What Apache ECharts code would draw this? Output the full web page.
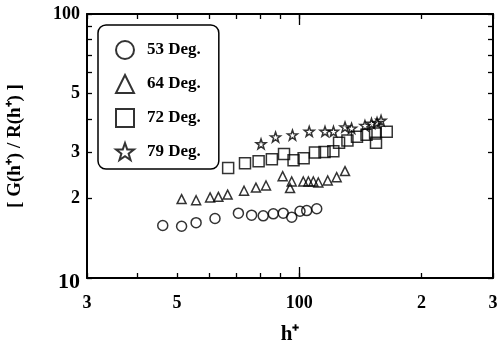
<!DOCTYPE html>
<html>
<head>
<meta charset="utf-8">
<script src="https://cdn.jsdelivr.net/npm/echarts@6/dist/echarts.min.js"></script>
<style>
  html, body { margin: 0; padding: 0; background: #fff; }
  #chart { width: 500px; height: 341px; }
</style>
</head>
<body>
<div id="chart"></div>
<script>
// 数据
var seriesNames = ['53 Deg.', '64 Deg.', '72 Deg.', '79 Deg.']
var circleX = [46.1, 51.3, 55.7, 62.0, 70.8, 76.3, 81.5, 86.3, 91.3, 95.8, 100.4, 104.3, 110.4]
var circleY = [15.8, 15.7, 16.2, 16.8, 17.6, 17.3, 17.2, 17.5, 17.6, 17.0, 17.9, 18.0, 18.3]
var triX = [51.3, 55.7, 60.3, 63.2, 66.6, 73.1, 78.2, 82.8, 91.0, 95.8, 94.9, 102.3, 105.3, 108.3, 111.4, 117.5, 123.6, 129.6]
var triY = [19.9, 19.7, 20.2, 20.3, 20.7, 21.4, 22.0, 22.4, 24.3, 23.2, 21.9, 23.2, 23.2, 23.2, 23.0, 23.4, 24.1, 25.4]
var sqX = [66.8, 73.5, 79.4, 85.6, 91.7, 96.8, 102.5, 109.3, 115.4, 121.3, 125.3, 131.4, 138.7, 146.4, 153.7, 154.5, 164.2]
var sqY = [26.1, 27.2, 27.7, 28.2, 29.5, 27.9, 28.4, 29.9, 30.0, 30.2, 32.5, 33.2, 34.3, 34.9, 35.3, 32.5, 35.8]
var starX = [80.5, 87.4, 96.2, 105.8, 115.7, 121.4, 129.6, 134.5, 145.1, 150.6, 155.4, 159.0]
var starY = [32.2, 34.2, 34.8, 35.9, 35.9, 35.9, 37.3, 36.9, 37.8, 38.5, 38.8, 39.5]

// 刻度
var xTicks = [30, 40, 50, 60, 70, 80, 90, 100, 200, 300]
var xLabelValues = [30, 50, 100, 200, 300]
var xLabelText = ['3', '5', '100', '2', '3']
var yTicks = [10, 20, 30, 40, 50, 60, 70, 80, 90, 100]
var yLabelValues = [10, 20, 30, 50, 100]
var yLabelText = ['10', '2', '3', '5', '100']

var serif = 'Liberation Serif'
var star = 'path://M0,-10 L2.35,-3.24 9.51,-3.09 3.8,1.24 5.88,8.09 0,4 -5.88,8.09 -3.8,1.24 -9.51,-3.09 -2.35,-3.24 Z'

function pairs(xs, ys) {
  return xs.map(function (x, i) { return [x, ys[i]] })
}

function labelOf(values, texts, v) {
  var i = values.indexOf(Math.round(v))
  if (i < 0) return ''
  return texts[i] === '10' ? '{big|10}' : texts[i]
}

var myChart = echarts.init(document.getElementById('chart'))

function logAxis(min, max, pos, ticks, len, showLine) {
  return {
    type: 'log',
    logBase: 10,
    min: min,
    max: max,
    position: pos,
    axisLine: { show: showLine, onZero: false, lineStyle: { color: '#000', width: 2 } },
    axisTick: { show: true, inside: true, length: len, customValues: ticks, lineStyle: { color: '#000', width: 1.3 } },
    axisLabel: { show: false },
    splitLine: { show: false },
    minorTick: { show: false },
    minorSplitLine: { show: false }
  }
}

var xMain = logAxis(30, 300, 'bottom', xTicks, 5, true)
xMain.axisLabel = {
  show: true,
  customValues: xLabelValues,
  margin: 16,
  color: '#000',
  fontFamily: serif,
  fontWeight: 'bold',
  fontSize: 18,
  formatter: function (v) { return labelOf(xLabelValues, xLabelText, v) }
}
xMain.name = 'h\u207A'
xMain.nameLocation = 'middle'
xMain.nameGap = 46
xMain.nameTextStyle = { color: '#000', fontFamily: serif, fontWeight: 'bold', fontSize: 21 }

var yMain = logAxis(10, 100, 'left', yTicks, 5, true)
yMain.axisLabel = {
  show: true,
  customValues: yLabelValues,
  margin: 7,
  color: '#000',
  fontFamily: serif,
  fontWeight: 'bold',
  fontSize: 18,
  formatter: function (v) { return labelOf(yLabelValues, yLabelText, v) },
  rich: { big: { fontFamily: serif, fontWeight: 'bold', fontSize: 22, color: '#000', padding: [8, 0, 0, 0] } }
}
yMain.name = '[ G(h\u207A) / R(h\u207A) ]'
yMain.nameLocation = 'middle'
yMain.nameGap = 62
yMain.nameRotate = 90
yMain.nameTextStyle = { color: '#000', fontFamily: serif, fontWeight: 'bold', fontSize: 19 }

function scatter(name, xs, ys, symbol, size) {
  return {
    name: name,
    type: 'scatter',
    symbol: symbol,
    symbolSize: size,
    data: pairs(xs, ys),
    itemStyle: { color: 'rgba(255,255,255,0)', borderColor: '#000', borderWidth: 1.5 },
    emphasis: { disabled: true }
  }
}

var option = {
  animation: false,
  backgroundColor: '#fff',
  grid: { left: 87, right: 7, top: 14, bottom: 63, outerBoundsMode: 'none', containLabel: false },
  xAxis: [
    xMain,
    logAxis(30, 300, 'top', xTicks, 5, true),
    logAxis(30, 300, 'bottom', [100], 11, false),
    logAxis(30, 300, 'top', [100], 11, false)
  ],
  yAxis: [
    yMain,
    logAxis(10, 100, 'right', yTicks, 5, true)
  ],
  legend: {
    orient: 'vertical',
    left: 98,
    top: 25,
    padding: [15, 18, 8, 17],
    itemWidth: 18,
    itemHeight: 18,
    itemGap: 14,
    borderColor: '#000',
    borderWidth: 1.5,
    borderRadius: 8,
    data: seriesNames,
    textStyle: { color: '#000', fontFamily: serif, fontWeight: 'bold', fontSize: 17, padding: [0, 0, 0, 8] }
  },
  series: [
    scatter(seriesNames[0], circleX, circleY, 'circle', 10),
    scatter(seriesNames[1], triX, triY, 'triangle', 9),
    scatter(seriesNames[2], sqX, sqY, 'rect', 11),
    scatter(seriesNames[3], starX, starY, star, 10)
  ]
}
myChart.setOption(option)
</script>
</body>
</html>
